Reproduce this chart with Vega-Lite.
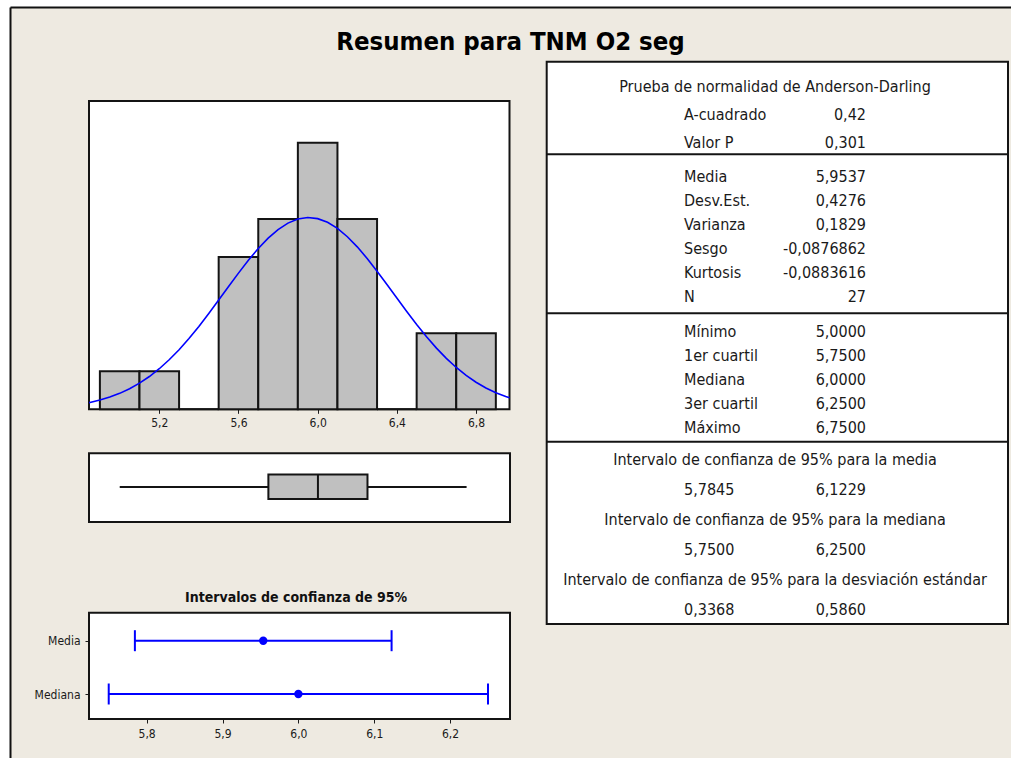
{
  "$schema": "https://vega.github.io/schema/vega-lite/v6.json",
  "width": 1001,
  "height": 751,
  "autosize": {"type": "none"},
  "padding": {"left": 10, "top": 7, "right": 0, "bottom": 0},
  "background": "#ffffff",
  "view": {"fill": "#EEEAE1", "stroke": null},
  "config": {
    "font": "Liberation Sans",
    "view": {"fill": "#EEEAE1", "stroke": null},
    "axis": {"grid": false, "domain": false, "labelFont": "DejaVu Sans Condensed, Liberation Sans", "labelFontSize": 12, "labelColor": "#1a1a1a", "tickColor": "#1a1a1a", "tickSize": 4, "tickWidth": 1, "labelOverlap": false},
    "text": {"font": "Liberation Sans"}
  },
  "datasets": {
    "hist": [
      {"bin_start": 4.9, "bin_end": 5.1, "count": 1},
      {"bin_start": 5.1, "bin_end": 5.3, "count": 1},
      {"bin_start": 5.3, "bin_end": 5.5, "count": 0},
      {"bin_start": 5.5, "bin_end": 5.7, "count": 4},
      {"bin_start": 5.7, "bin_end": 5.9, "count": 5},
      {"bin_start": 5.9, "bin_end": 6.1, "count": 7},
      {"bin_start": 6.1, "bin_end": 6.3, "count": 5},
      {"bin_start": 6.3, "bin_end": 6.5, "count": 0},
      {"bin_start": 6.5, "bin_end": 6.7, "count": 2},
      {"bin_start": 6.7, "bin_end": 6.9, "count": 2}
    ],
    "curve": [
      {"x": 4.845, "value": 0.175}, {"x": 4.85, "value": 0.18}, {"x": 4.9, "value": 0.242}, {"x": 4.95, "value": 0.321},
      {"x": 5.0, "value": 0.419}, {"x": 5.05, "value": 0.54}, {"x": 5.1, "value": 0.687}, {"x": 5.15, "value": 0.861},
      {"x": 5.2, "value": 1.066}, {"x": 5.25, "value": 1.301}, {"x": 5.3, "value": 1.566}, {"x": 5.35, "value": 1.86},
      {"x": 5.4, "value": 2.178}, {"x": 5.45, "value": 2.517}, {"x": 5.5, "value": 2.87}, {"x": 5.55, "value": 3.227},
      {"x": 5.6, "value": 3.578}, {"x": 5.65, "value": 3.915}, {"x": 5.7, "value": 4.225}, {"x": 5.75, "value": 4.498},
      {"x": 5.8, "value": 4.723}, {"x": 5.85, "value": 4.892}, {"x": 5.9, "value": 4.999}, {"x": 5.95, "value": 5.038},
      {"x": 6.0, "value": 5.009}, {"x": 6.05, "value": 4.912}, {"x": 6.1, "value": 4.752}, {"x": 6.15, "value": 4.534},
      {"x": 6.2, "value": 4.268}, {"x": 6.25, "value": 3.963}, {"x": 6.3, "value": 3.629}, {"x": 6.35, "value": 3.279},
      {"x": 6.4, "value": 2.922}, {"x": 6.45, "value": 2.569}, {"x": 6.5, "value": 2.228}, {"x": 6.55, "value": 1.905},
      {"x": 6.6, "value": 1.608}, {"x": 6.65, "value": 1.338}, {"x": 6.7, "value": 1.099}, {"x": 6.75, "value": 0.89},
      {"x": 6.8, "value": 0.711}, {"x": 6.85, "value": 0.56}, {"x": 6.9, "value": 0.435}, {"x": 6.95, "value": 0.334},
      {"x": 6.969, "value": 0.301}
    ],
    "box": [{"min": 5.0, "q1": 5.75, "median": 6.0, "q3": 6.25, "max": 6.75}],
    "ci": [
      {"stat": "Media", "lo": 5.7845, "hi": 6.1229, "est": 5.9537},
      {"stat": "Mediana", "lo": 5.75, "hi": 6.25, "est": 6.0}
    ],
    "table": [
      {"sec": "s1", "line": "l1", "col": "center", "text": "Prueba de normalidad de Anderson-Darling"},
      {"sec": "s1", "line": "l2", "col": "label", "text": "A-cuadrado"},
      {"sec": "s1", "line": "l2", "col": "value", "text": "0,42"},
      {"sec": "s1", "line": "l3", "col": "label", "text": "Valor P"},
      {"sec": "s1", "line": "l3", "col": "value", "text": "0,301"},
      {"sec": "s2", "line": "l1", "col": "label", "text": "Media"},
      {"sec": "s2", "line": "l1", "col": "value", "text": "5,9537"},
      {"sec": "s2", "line": "l2", "col": "label", "text": "Desv.Est."},
      {"sec": "s2", "line": "l2", "col": "value", "text": "0,4276"},
      {"sec": "s2", "line": "l3", "col": "label", "text": "Varianza"},
      {"sec": "s2", "line": "l3", "col": "value", "text": "0,1829"},
      {"sec": "s2", "line": "l4", "col": "label", "text": "Sesgo"},
      {"sec": "s2", "line": "l4", "col": "value", "text": "-0,0876862"},
      {"sec": "s2", "line": "l5", "col": "label", "text": "Kurtosis"},
      {"sec": "s2", "line": "l5", "col": "value", "text": "-0,0883616"},
      {"sec": "s2", "line": "l6", "col": "label", "text": "N"},
      {"sec": "s2", "line": "l6", "col": "value", "text": "27"},
      {"sec": "s3", "line": "l1", "col": "label", "text": "Mínimo"},
      {"sec": "s3", "line": "l1", "col": "value", "text": "5,0000"},
      {"sec": "s3", "line": "l2", "col": "label", "text": "1er cuartil"},
      {"sec": "s3", "line": "l2", "col": "value", "text": "5,7500"},
      {"sec": "s3", "line": "l3", "col": "label", "text": "Mediana"},
      {"sec": "s3", "line": "l3", "col": "value", "text": "6,0000"},
      {"sec": "s3", "line": "l4", "col": "label", "text": "3er cuartil"},
      {"sec": "s3", "line": "l4", "col": "value", "text": "6,2500"},
      {"sec": "s3", "line": "l5", "col": "label", "text": "Máximo"},
      {"sec": "s3", "line": "l5", "col": "value", "text": "6,7500"},
      {"sec": "s4", "line": "l1", "col": "center", "text": "Intervalo de confianza de 95% para la media"},
      {"sec": "s4", "line": "l2", "col": "label", "text": "5,7845"},
      {"sec": "s4", "line": "l2", "col": "value", "text": "6,1229"},
      {"sec": "s4", "line": "l3", "col": "center", "text": "Intervalo de confianza de 95% para la mediana"},
      {"sec": "s4", "line": "l4", "col": "label", "text": "5,7500"},
      {"sec": "s4", "line": "l4", "col": "value", "text": "6,2500"},
      {"sec": "s4", "line": "l5", "col": "center", "text": "Intervalo de confianza de 95% para la desviación estándar"},
      {"sec": "s4", "line": "l6", "col": "label", "text": "0,3368"},
      {"sec": "s4", "line": "l6", "col": "value", "text": "0,5860"}
    ]
  },
  "resolve": {"scale": {"x": "independent", "y": "independent"}, "axis": {"x": "independent", "y": "independent"}},
  "layer": [
    {
      "layer": [
        {
          "data": {"values": [{}]},
          "mark": {"type": "point", "opacity": 0},
          "encoding": {
            "x": {"datum": 0, "type": "quantitative", "scale": {"domain": [0, 1], "nice": false, "zero": false},
                  "axis": {"orient": "top", "domain": true, "domainColor": "#111111", "domainWidth": 2, "ticks": false, "labels": false, "title": null}},
            "y": {"datum": 0, "type": "quantitative", "scale": {"domain": [0, 1], "nice": false, "zero": false},
                  "axis": {"orient": "left", "domain": true, "domainColor": "#111111", "domainWidth": 2, "ticks": false, "labels": false, "title": null}}
          }
        },
        {
          "data": {"values": [{"t": "Resumen para TNM O2 seg"}]},
          "mark": {"type": "text", "font": "DejaVu Sans Condensed, Liberation Sans", "fontSize": 25.5, "fontWeight": "bold", "align": "center", "baseline": "alphabetic", "color": "#000000"},
          "encoding": {
            "x": {"datum": 0.5, "type": "quantitative", "scale": {"domain": [0, 1], "nice": false, "zero": false},
                  "axis": {"orient": "top", "domain": true, "domainColor": "#111111", "domainWidth": 2, "ticks": false, "labels": false, "title": null}},
            "y": {"datum": 0.9427, "type": "quantitative", "scale": {"domain": [0, 1], "nice": false, "zero": false},
                  "axis": {"orient": "left", "domain": true, "domainColor": "#111111", "domainWidth": 2, "ticks": false, "labels": false, "title": null}},
            "text": {"field": "t"}
          }
        }
      ]
    },
    {
      "layer": [
        {
          "data": {"values": [{}]},
          "mark": {"type": "rect", "fill": "#ffffff", "stroke": "#141414", "strokeWidth": 2},
          "encoding": {
            "x": {"datum": 4.845, "type": "quantitative", "scale": {"domain": [4.845, 6.969], "range": [79, 499.5], "nice": false, "zero": false},
                  "axis": {"orient": "bottom", "offset": -348.7, "values": [5.2, 5.6, 6.0, 6.4, 6.8], "labelExpr": "replace(format(datum.value, '.1f'), '.', ',')", "title": null, "tickSize": 4, "labelPadding": 4}},
            "x2": {"datum": 6.969},
            "y": {"datum": 0, "type": "quantitative", "scale": {"domain": [0, 8.1], "range": [402.3, 94], "nice": false, "zero": false}, "axis": null},
            "y2": {"datum": 8.1}
          }
        },
        {
          "data": {"name": "hist"},
          "mark": {"type": "rect", "fill": "#C0C0C0", "stroke": "#141414", "strokeWidth": 2},
          "encoding": {
            "x": {"field": "bin_start", "type": "quantitative", "scale": {"domain": [4.845, 6.969], "range": [79, 499.5], "nice": false, "zero": false},
                  "axis": {"orient": "bottom", "offset": -348.7, "values": [5.2, 5.6, 6.0, 6.4, 6.8], "labelExpr": "replace(format(datum.value, '.1f'), '.', ',')", "title": null, "tickSize": 4, "labelPadding": 4}},
            "x2": {"field": "bin_end"},
            "y": {"field": "count", "type": "quantitative", "scale": {"domain": [0, 8.1], "range": [402.3, 94], "nice": false, "zero": false}, "axis": null},
            "y2": {"datum": 0}
          }
        },
        {
          "data": {"name": "curve"},
          "mark": {"type": "line", "color": "#0000FF", "strokeWidth": 1.6},
          "encoding": {
            "x": {"field": "x", "type": "quantitative", "scale": {"domain": [4.845, 6.969], "range": [79, 499.5], "nice": false, "zero": false},
                  "axis": {"orient": "bottom", "offset": -348.7, "values": [5.2, 5.6, 6.0, 6.4, 6.8], "labelExpr": "replace(format(datum.value, '.1f'), '.', ',')", "title": null, "tickSize": 4, "labelPadding": 4}},
            "y": {"field": "value", "type": "quantitative", "scale": {"domain": [0, 8.1], "range": [402.3, 94], "nice": false, "zero": false}, "axis": null}
          }
        }
      ]
    },
    {
      "layer": [
        {
          "data": {"values": [{}]},
          "mark": {"type": "rect", "fill": "#ffffff", "stroke": "#141414", "strokeWidth": 2},
          "encoding": {
            "x": {"datum": 4.845, "type": "quantitative", "scale": {"domain": [4.845, 6.969], "range": [79, 500], "nice": false, "zero": false}, "axis": null},
            "x2": {"datum": 6.969},
            "y": {"datum": 0, "type": "quantitative", "scale": {"domain": [0, 1], "range": [515, 446.3], "nice": false, "zero": false}, "axis": null},
            "y2": {"datum": 1}
          }
        },
        {
          "data": {"name": "box"},
          "mark": {"type": "rule", "color": "#141414", "strokeWidth": 2},
          "encoding": {
            "x": {"field": "min", "type": "quantitative", "scale": {"domain": [4.845, 6.969], "range": [79, 500], "nice": false, "zero": false}, "axis": null},
            "x2": {"field": "max"},
            "y": {"datum": 0.51, "type": "quantitative", "scale": {"domain": [0, 1], "range": [515, 446.3], "nice": false, "zero": false}, "axis": null}
          }
        },
        {
          "data": {"name": "box"},
          "mark": {"type": "rect", "fill": "#C0C0C0", "stroke": "#141414", "strokeWidth": 2},
          "encoding": {
            "x": {"field": "q1", "type": "quantitative", "scale": {"domain": [4.845, 6.969], "range": [79, 500], "nice": false, "zero": false}, "axis": null},
            "x2": {"field": "q3"},
            "y": {"datum": 0.335, "type": "quantitative", "scale": {"domain": [0, 1], "range": [515, 446.3], "nice": false, "zero": false}, "axis": null},
            "y2": {"datum": 0.69}
          }
        },
        {
          "data": {"name": "box"},
          "mark": {"type": "rule", "color": "#141414", "strokeWidth": 2},
          "encoding": {
            "x": {"field": "median", "type": "quantitative", "scale": {"domain": [4.845, 6.969], "range": [79, 500], "nice": false, "zero": false}, "axis": null},
            "y": {"datum": 0.335, "type": "quantitative", "scale": {"domain": [0, 1], "range": [515, 446.3], "nice": false, "zero": false}, "axis": null},
            "y2": {"datum": 0.69}
          }
        }
      ]
    },
    {
      "resolve": {"scale": {"y": "independent"}, "axis": {"y": "independent"}},
      "layer": [
        {
          "layer": [
            {
              "data": {"values": [{}]},
              "mark": {"type": "rect", "fill": "#ffffff", "stroke": "#141414", "strokeWidth": 2},
              "encoding": {
                "x": {"datum": 5.724, "type": "quantitative", "scale": {"domain": [5.724, 6.279], "range": [79, 500], "nice": false, "zero": false},
                      "axis": {"orient": "bottom", "offset": -39, "values": [5.8, 5.9, 6.0, 6.1, 6.2], "labelExpr": "replace(format(datum.value, '.1f'), '.', ',')", "title": null, "tickSize": 4, "labelPadding": 5}},
                "x2": {"datum": 6.279},
                "y": {"datum": 0, "type": "quantitative", "scale": {"domain": [0, 1], "range": [712, 605.7], "nice": false, "zero": false}, "axis": null},
                "y2": {"datum": 1}
              }
            },
            {
              "data": {"values": [{"t": "Intervalos de confianza de 95%"}]},
              "mark": {"type": "text", "font": "DejaVu Sans Condensed, Liberation Sans", "fontSize": 14, "fontWeight": "bold", "align": "center", "baseline": "alphabetic", "dy": -11, "color": "#111111"},
              "encoding": {
                "x": {"datum": 5.997, "type": "quantitative", "scale": {"domain": [5.724, 6.279], "range": [79, 500], "nice": false, "zero": false},
                      "axis": {"orient": "bottom", "offset": -39, "values": [5.8, 5.9, 6.0, 6.1, 6.2], "labelExpr": "replace(format(datum.value, '.1f'), '.', ',')", "title": null, "tickSize": 4, "labelPadding": 5}},
                "y": {"datum": 1, "type": "quantitative", "scale": {"domain": [0, 1], "range": [712, 605.7], "nice": false, "zero": false}, "axis": null},
                "text": {"field": "t"}
              }
            }
          ]
        },
        {
          "data": {"name": "ci"},
          "layer": [
            {
              "mark": {"type": "rule", "color": "#0000FF", "strokeWidth": 2},
              "encoding": {
                "x": {"field": "lo", "type": "quantitative", "scale": {"domain": [5.724, 6.279], "range": [79, 500], "nice": false, "zero": false},
                      "axis": {"orient": "bottom", "offset": -39, "values": [5.8, 5.9, 6.0, 6.1, 6.2], "labelExpr": "replace(format(datum.value, '.1f'), '.', ',')", "title": null, "tickSize": 4, "labelPadding": 5}},
                "x2": {"field": "hi"},
                "y": {"field": "stat", "type": "nominal", "scale": {"type": "point", "domain": ["Media", "Mediana"], "range": [633.7, 687], "padding": 0},
                      "axis": {"orient": "left", "offset": -79, "title": null, "tickSize": 4, "labelPadding": 5}}
              }
            },
            {
              "mark": {"type": "tick", "color": "#0000FF", "thickness": 2, "size": 21, "orient": "vertical", "opacity": 1},
              "encoding": {
                "x": {"field": "lo", "type": "quantitative", "scale": {"domain": [5.724, 6.279], "range": [79, 500], "nice": false, "zero": false},
                      "axis": {"orient": "bottom", "offset": -39, "values": [5.8, 5.9, 6.0, 6.1, 6.2], "labelExpr": "replace(format(datum.value, '.1f'), '.', ',')", "title": null, "tickSize": 4, "labelPadding": 5}},
                "y": {"field": "stat", "type": "nominal", "scale": {"type": "point", "domain": ["Media", "Mediana"], "range": [633.7, 687], "padding": 0},
                      "axis": {"orient": "left", "offset": -79, "title": null, "tickSize": 4, "labelPadding": 5}}
              }
            },
            {
              "mark": {"type": "tick", "color": "#0000FF", "thickness": 2, "size": 21, "orient": "vertical", "opacity": 1},
              "encoding": {
                "x": {"field": "hi", "type": "quantitative", "scale": {"domain": [5.724, 6.279], "range": [79, 500], "nice": false, "zero": false},
                      "axis": {"orient": "bottom", "offset": -39, "values": [5.8, 5.9, 6.0, 6.1, 6.2], "labelExpr": "replace(format(datum.value, '.1f'), '.', ',')", "title": null, "tickSize": 4, "labelPadding": 5}},
                "y": {"field": "stat", "type": "nominal", "scale": {"type": "point", "domain": ["Media", "Mediana"], "range": [633.7, 687], "padding": 0},
                      "axis": {"orient": "left", "offset": -79, "title": null, "tickSize": 4, "labelPadding": 5}}
              }
            },
            {
              "mark": {"type": "point", "filled": true, "color": "#0000FF", "size": 70, "opacity": 1},
              "encoding": {
                "x": {"field": "est", "type": "quantitative", "scale": {"domain": [5.724, 6.279], "range": [79, 500], "nice": false, "zero": false},
                      "axis": {"orient": "bottom", "offset": -39, "values": [5.8, 5.9, 6.0, 6.1, 6.2], "labelExpr": "replace(format(datum.value, '.1f'), '.', ',')", "title": null, "tickSize": 4, "labelPadding": 5}},
                "y": {"field": "stat", "type": "nominal", "scale": {"type": "point", "domain": ["Media", "Mediana"], "range": [633.7, 687], "padding": 0},
                      "axis": {"orient": "left", "offset": -79, "title": null, "tickSize": 4, "labelPadding": 5}}
              }
            }
          ]
        }
      ]
    },
    {
      "data": {"values": [{}]},
      "layer": [
        {
          "mark": {"type": "rect", "fill": "#ffffff", "stroke": "#141414", "strokeWidth": 2},
          "encoding": {
            "x": {"datum": 0, "type": "quantitative", "scale": {"domain": [0, 1], "range": [536.7, 998], "nice": false, "zero": false}, "axis": null},
            "x2": {"datum": 1},
            "y": {"datum": 0, "type": "quantitative", "scale": {"domain": [0, 1], "range": [54.7, 617], "nice": false, "zero": false}, "axis": null},
            "y2": {"datum": 1}
          }
        },
        {
          "mark": {"type": "rule", "color": "#141414", "strokeWidth": 2},
          "encoding": {
            "x": {"datum": 0, "type": "quantitative", "scale": {"domain": [0, 1], "range": [536.7, 998], "nice": false, "zero": false}, "axis": null},
            "x2": {"datum": 1},
            "y": {"datum": 0.1647, "type": "quantitative", "scale": {"domain": [0, 1], "range": [54.7, 617], "nice": false, "zero": false}, "axis": null}
          }
        },
        {
          "mark": {"type": "rule", "color": "#141414", "strokeWidth": 2},
          "encoding": {
            "x": {"datum": 0, "type": "quantitative", "scale": {"domain": [0, 1], "range": [536.7, 998], "nice": false, "zero": false}, "axis": null},
            "x2": {"datum": 1},
            "y": {"datum": 0.4474, "type": "quantitative", "scale": {"domain": [0, 1], "range": [54.7, 617], "nice": false, "zero": false}, "axis": null}
          }
        },
        {
          "mark": {"type": "rule", "color": "#141414", "strokeWidth": 2},
          "encoding": {
            "x": {"datum": 0, "type": "quantitative", "scale": {"domain": [0, 1], "range": [536.7, 998], "nice": false, "zero": false}, "axis": null},
            "x2": {"datum": 1},
            "y": {"datum": 0.6758, "type": "quantitative", "scale": {"domain": [0, 1], "range": [54.7, 617], "nice": false, "zero": false}, "axis": null}
          }
        }
      ]
    },
    {
      "data": {"name": "table"},
      "transform": [{"filter": "datum.sec == 's1'"}],
      "encoding": {
        "x": {"field": "col", "type": "nominal", "scale": {"type": "point", "domain": ["label", "center", "value"], "range": [674, 856], "padding": 0}, "axis": null},
        "y": {"field": "line", "type": "nominal", "scale": {"type": "point", "domain": ["l1", "l2", "l3"], "range": [79.7, 136.3], "padding": 0}, "axis": null},
        "text": {"field": "text"}
      },
      "layer": [
        {"transform": [{"filter": "datum.col == 'label'"}], "mark": {"type": "text", "font": "DejaVu Sans Condensed, Liberation Sans", "fontSize": 16, "align": "left", "baseline": "middle", "color": "#1a1a1a"}},
        {"transform": [{"filter": "datum.col == 'center'"}], "mark": {"type": "text", "font": "DejaVu Sans Condensed, Liberation Sans", "fontSize": 16, "align": "center", "baseline": "middle", "color": "#1a1a1a"}},
        {"transform": [{"filter": "datum.col == 'value'"}], "mark": {"type": "text", "font": "DejaVu Sans Condensed, Liberation Sans", "fontSize": 16, "align": "right", "baseline": "middle", "color": "#1a1a1a"}}
      ]
    },
    {
      "data": {"name": "table"},
      "transform": [{"filter": "datum.sec == 's2'"}],
      "encoding": {
        "x": {"field": "col", "type": "nominal", "scale": {"type": "point", "domain": ["label", "center", "value"], "range": [674, 856], "padding": 0}, "axis": null},
        "y": {"field": "line", "type": "nominal", "scale": {"type": "point", "domain": ["l1", "l2", "l3", "l4", "l5", "l6"], "range": [169.7, 289.7], "padding": 0}, "axis": null},
        "text": {"field": "text"}
      },
      "layer": [
        {"transform": [{"filter": "datum.col == 'label'"}], "mark": {"type": "text", "font": "DejaVu Sans Condensed, Liberation Sans", "fontSize": 16, "align": "left", "baseline": "middle", "color": "#1a1a1a"}},
        {"transform": [{"filter": "datum.col == 'value'"}], "mark": {"type": "text", "font": "DejaVu Sans Condensed, Liberation Sans", "fontSize": 16, "align": "right", "baseline": "middle", "color": "#1a1a1a"}}
      ]
    },
    {
      "data": {"name": "table"},
      "transform": [{"filter": "datum.sec == 's3'"}],
      "encoding": {
        "x": {"field": "col", "type": "nominal", "scale": {"type": "point", "domain": ["label", "center", "value"], "range": [674, 856], "padding": 0}, "axis": null},
        "y": {"field": "line", "type": "nominal", "scale": {"type": "point", "domain": ["l1", "l2", "l3", "l4", "l5"], "range": [324.7, 420.7], "padding": 0}, "axis": null},
        "text": {"field": "text"}
      },
      "layer": [
        {"transform": [{"filter": "datum.col == 'label'"}], "mark": {"type": "text", "font": "DejaVu Sans Condensed, Liberation Sans", "fontSize": 16, "align": "left", "baseline": "middle", "color": "#1a1a1a"}},
        {"transform": [{"filter": "datum.col == 'value'"}], "mark": {"type": "text", "font": "DejaVu Sans Condensed, Liberation Sans", "fontSize": 16, "align": "right", "baseline": "middle", "color": "#1a1a1a"}}
      ]
    },
    {
      "data": {"name": "table"},
      "transform": [{"filter": "datum.sec == 's4'"}],
      "encoding": {
        "x": {"field": "col", "type": "nominal", "scale": {"type": "point", "domain": ["label", "center", "value"], "range": [674, 856], "padding": 0}, "axis": null},
        "y": {"field": "line", "type": "nominal", "scale": {"type": "point", "domain": ["l1", "l2", "l3", "l4", "l5", "l6"], "range": [453, 603], "padding": 0}, "axis": null},
        "text": {"field": "text"}
      },
      "layer": [
        {"transform": [{"filter": "datum.col == 'label'"}], "mark": {"type": "text", "font": "DejaVu Sans Condensed, Liberation Sans", "fontSize": 16, "align": "left", "baseline": "middle", "color": "#1a1a1a"}},
        {"transform": [{"filter": "datum.col == 'center'"}], "mark": {"type": "text", "font": "DejaVu Sans Condensed, Liberation Sans", "fontSize": 16, "align": "center", "baseline": "middle", "color": "#1a1a1a"}},
        {"transform": [{"filter": "datum.col == 'value'"}], "mark": {"type": "text", "font": "DejaVu Sans Condensed, Liberation Sans", "fontSize": 16, "align": "right", "baseline": "middle", "color": "#1a1a1a"}}
      ]
    }
  ]
}
